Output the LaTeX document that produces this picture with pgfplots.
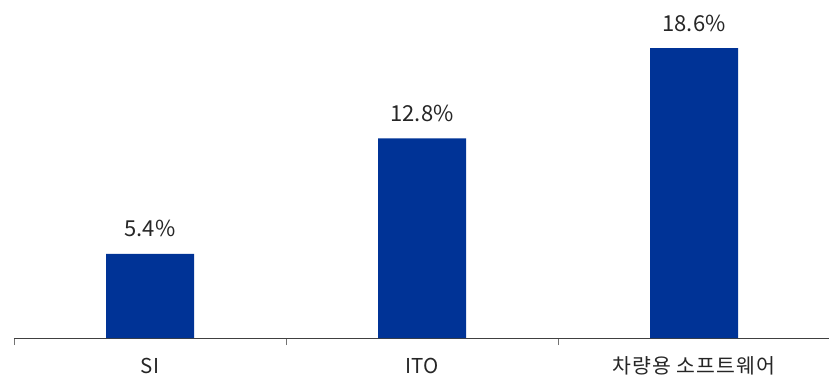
\documentclass[border=0pt]{standalone}
\usepackage{pgfplots}
\pgfplotsset{compat=1.18}
\usepackage{fontspec}
\setmainfont{Noto Sans CJK KR}
\definecolor{barblue}{RGB}{0,51,150}
\definecolor{txt}{RGB}{38,38,38}
\begin{document}
\begin{tikzpicture}[x=1pt,y=1pt]
\path[use as bounding box] (0,0) rectangle (829,376);
\begin{axis}[
  at={(14pt,38pt)}, anchor=south west,
  scale only axis, width=816pt, height=338pt,
  xmin=-0.5, xmax=2.5, ymin=0, ymax=21.68,
  axis x line*=bottom, axis y line=none,
  axis line style={draw=black!75, line width=0.8pt, -},
  xtick={0,1,2}, xticklabels={SI, ITO, {\addfontfeature{LetterSpace=5}차량용 소프트웨어}},
  major tick length=0pt,
  minor xtick={-0.5,0.5,1.5},
  minor tick length=7pt,
  tick align=outside,
  minor tick style={draw=black!55, line width=0.8pt},
  xticklabel style={font=\fontsize{20.5}{24}\selectfont, text=txt, anchor=base, yshift=-35pt},
  /pgf/number format/assume math mode=true,
  ybar, bar width=88pt,
  nodes near coords={\pgfmathprintnumber[fixed,precision=1,fixed zerofill,assume math mode=true]{\pgfplotspointmeta}\%},
  every node near coord/.append style={font=\fontsize{22}{26}\selectfont, text=txt, anchor=base, yshift=17pt},
  clip=false,
]
\addplot[fill=barblue, draw=none] coordinates {(0,5.4) (1,12.8) (2,18.6)};
\end{axis}
\end{tikzpicture}
\end{document}
